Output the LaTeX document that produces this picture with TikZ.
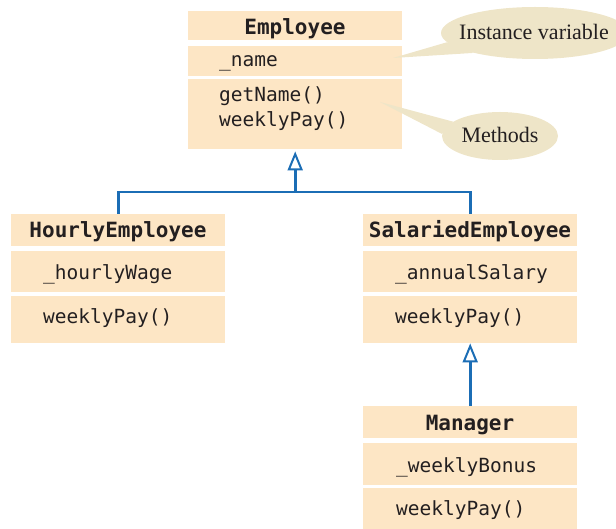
\documentclass[tikz,border=0pt]{standalone}
\usepackage{fontspec}
\setmainfont{Liberation Serif}
\setmonofont{DejaVu Sans Mono}
\usetikzlibrary{arrows.meta,shapes.geometric}
\definecolor{bandfill}{HTML}{FDE6C5}
\definecolor{callfill}{HTML}{EEE5C8}
\definecolor{conn}{HTML}{1B6DB5}
\definecolor{ink}{HTML}{231F20}
\tikzset{
 band/.style={rectangle, fill=bandfill, inner sep=0pt, minimum width=214pt, anchor=north west},
 code/.style={font=\fontsize{19.5}{23}\selectfont\ttfamily, text=ink, inner sep=0pt, anchor=base west},
 ctitle/.style={font=\fontsize{21}{25}\selectfont\ttfamily\bfseries, text=ink, inner sep=0pt, anchor=base},
 callout/.style={ellipse, fill=callfill, inner sep=0pt},
 calltext/.style={font=\fontsize{22}{26}\selectfont, text=ink, inner sep=0pt, anchor=base},
 link/.style={draw=conn, line width=2.6pt},
 inherit/.style={link, -{Triangle[open, length=19pt, width=15pt, line width=2pt]}},
}
\begin{document}
\begin{tikzpicture}[x=1pt,y=-1pt]
\useasboundingbox (0,0) rectangle (616,529);
\clip (0,0) rectangle (616,529);
% Employee
\node[band, minimum height=29pt] (e1) at (188,11) {};
\node[band, minimum height=30pt] (e2) at (188,46) {};
\node[band, minimum height=70pt] (e3) at (188,79) {};
\node[ctitle] (e1t) at (295,35) {Employee};
\node[code] (e2t) at (219,67) {\_name};
\node[code] (e3t) at (219,102) {getName()};
\node[code] (e3u) at (219,127) {weeklyPay()};
% HourlyEmployee
\node[band, minimum height=32pt] (h1) at (11,214) {};
\node[band, minimum height=41pt] (h2) at (11,251) {};
\node[band, minimum height=47pt] (h3) at (11,296) {};
\node[ctitle] (h1t) at (118,238) {HourlyEmployee};
\node[code] (h2t) at (43,280) {\_hourlyWage};
\node[code] (h3t) at (43,324) {weeklyPay()};
% SalariedEmployee
\node[band, minimum height=32pt] (s1) at (363,214) {};
\node[band, minimum height=41pt] (s2) at (363,251) {};
\node[band, minimum height=47pt] (s3) at (363,296) {};
\node[ctitle] (s1t) at (470,238) {SalariedEmployee};
\node[code] (s2t) at (395,280) {\_annualSalary};
\node[code] (s3t) at (395,324) {weeklyPay()};
% Manager
\node[band, minimum height=32pt] (m1) at (363,406) {};
\node[band, minimum height=42pt] (m2) at (363,443) {};
\node[band, minimum height=45pt] (m3) at (363,488) {};
\node[ctitle] (m1t) at (470,430) {Manager};
\node[code] (m2t) at (396,472) {\_weeklyBonus};
\node[code] (m3t) at (396,515) {weeklyPay()};
% connectors
\coordinate (jy) at (0,192);
\coordinate (j) at (e3.south |- jy);
\draw[link] (h1.north) |- (j) -| (s1.north);
\draw[inherit] (j) -- ([yshift=-2pt]e3.south);
\draw[inherit] (m1.north) -- (s3.south);
% callouts
\node[callout, minimum width=188pt, minimum height=52pt] (iv) at (535,33) {};
\coordinate (ivtip) at (393,58);
\fill[callfill] (ivtip) -- (iv.186) -- (iv.198) -- cycle;
\node[calltext] (ivt) at (534,40) {Instance variable};
\node[callout, minimum width=116pt, minimum height=48pt] (me) at (500,136) {};
\coordinate (metip) at (380,102);
\fill[callfill] (metip) -- (me.163) -- (me.178) -- cycle;
\node[calltext] (met) at (500,143) {Methods};
\end{tikzpicture}
\end{document}
